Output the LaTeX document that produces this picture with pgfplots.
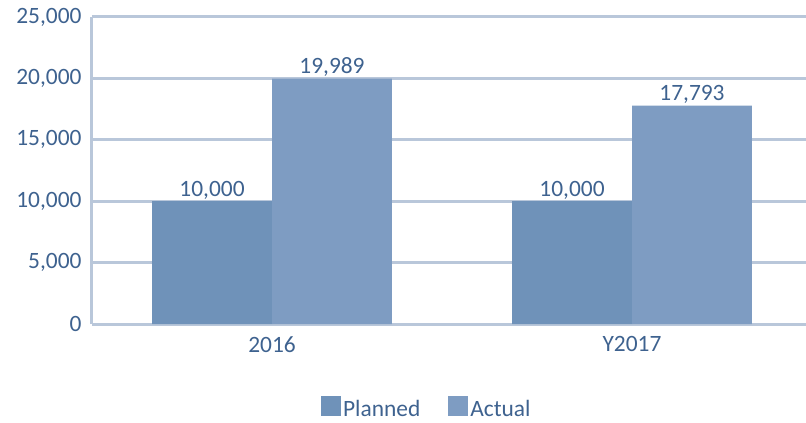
\documentclass[border=0pt]{standalone}
\usepackage{fontspec}
\setmainfont{Carlito}
\usepackage{pgfplots}
\pgfplotsset{compat=1.18}
\definecolor{planned}{RGB}{111,146,185}
\definecolor{actual}{RGB}{126,156,194}
\definecolor{txt}{RGB}{62,98,143}
\definecolor{gridc}{RGB}{185,199,218}
\begin{document}
\begin{tikzpicture}
\begin{axis}[
  scale only axis, width=720bp, height=307bp,
  ybar=0pt, bar width=0.3333,
  xmin=-0.5, xmax=1.5, ymin=0, ymax=25000,
  xtick={0,1}, xticklabels={2016,Y2017},
  ytick={0,5000,10000,15000,20000,25000},
  scaled y ticks=false,
  axis lines*=left,
  axis line style={line width=3bp, gridc},
  ymajorgrids, grid style={line width=3bp, gridc},
  major tick length=0pt,
  /pgf/number format/.cd, 1000 sep={,}, assume math mode=true, /pgfplots/.cd,
  ticklabel style={font=\fontsize{23.5}{28}\selectfont, text=txt},
  yticklabel style={xshift=-7bp},
  xticklabel style={yshift=-9bp},
  nodes near coords,
  every node near coord/.append style={font=\fontsize{23.5}{28}\selectfont, text=txt, inner sep=2bp},
  legend columns=2,
  legend style={at={(0.465,-0.274)}, anchor=center, draw=none, fill=none,
    font=\fontsize{23.5}{28}\selectfont, text=txt,
    /tikz/every even column/.append style={column sep=26bp}},
  legend image code/.code={\fill[#1] (-3bp,-7bp) rectangle (17bp,13bp);},
]
\addplot[fill=planned, draw=none] coordinates {(0,10000) (1,10000)};
\addplot[fill=actual, draw=none] coordinates {(0,19989) (1,17793)};
\legend{Planned, Actual}
\end{axis}
\pgfresetboundingbox
\path ([shift={(-92bp,-99bp)}]current axis.south west) rectangle ([shift={(-6bp,17bp)}]current axis.north east);
\end{tikzpicture}
\end{document}
